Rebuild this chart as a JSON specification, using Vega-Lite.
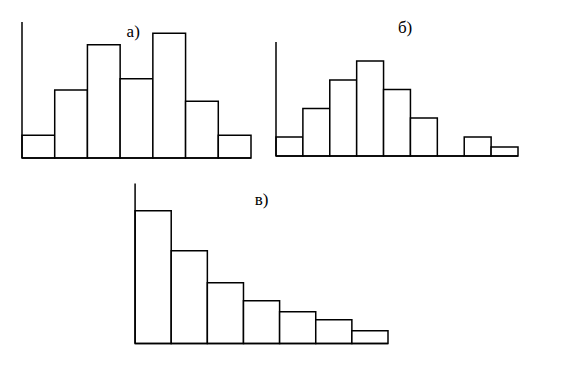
{
  "$schema": "https://vega.github.io/schema/vega-lite/v6.json",
  "padding": {"left": 21, "top": 19, "right": 0, "bottom": 0},
  "background": "white",
  "spacing": 23.5,
  "config": {
    "view": {"stroke": null},
    "rect": {"fill": "white", "stroke": "black", "strokeWidth": 1.5},
    "rule": {"stroke": "black", "strokeWidth": 1.5},
    "text": {"font": "Liberation Serif", "fontSize": 17, "color": "black", "baseline": "alphabetic", "align": "center"}
  },
  "datasets": {
    "a": [
      {"x0": 0, "x1": 1, "count": 2},
      {"x0": 1, "x1": 2, "count": 6},
      {"x0": 2, "x1": 3, "count": 10},
      {"x0": 3, "x1": 4, "count": 7},
      {"x0": 4, "x1": 5, "count": 11},
      {"x0": 5, "x1": 6, "count": 5},
      {"x0": 6, "x1": 7, "count": 2}
    ],
    "b": [
      {"x0": 0, "x1": 1, "count": 2},
      {"x0": 1, "x1": 2, "count": 5},
      {"x0": 2, "x1": 3, "count": 8},
      {"x0": 3, "x1": 4, "count": 10},
      {"x0": 4, "x1": 5, "count": 7},
      {"x0": 5, "x1": 6, "count": 4},
      {"x0": 6, "x1": 7, "count": 0},
      {"x0": 7, "x1": 8, "count": 2},
      {"x0": 8, "x1": 9, "count": 0.95}
    ],
    "c": [
      {"x0": 0, "x1": 1, "count": 13.27},
      {"x0": 1, "x1": 2, "count": 9.27},
      {"x0": 2, "x1": 3, "count": 6.07},
      {"x0": 3, "x1": 4, "count": 4.27},
      {"x0": 4, "x1": 5, "count": 3.17},
      {"x0": 5, "x1": 6, "count": 2.37},
      {"x0": 6, "x1": 7, "count": 1.27}
    ]
  },
  "vconcat": [
    {
      "bounds": "flush",
      "spacing": 25,
      "hconcat": [
        {
          "width": 229,
          "height": 136,
          "layer": [
            {
              "data": {"name": "a"},
              "mark": "rect",
              "encoding": {
                "x": {"field": "x0", "type": "quantitative", "scale": {"domain": [0, 7], "nice": false, "zero": false}, "axis": null},
                "x2": {"field": "x1"},
                "y": {"field": "count", "type": "quantitative", "scale": {"domain": [0, 12], "nice": false}, "axis": null},
                "y2": {"datum": 0}
              }
            },
            {
              "data": {"values": [{}]},
              "mark": "rule",
              "encoding": {"x": {"datum": 0}, "y": {"datum": 0}, "y2": {"datum": 12}}
            },
            {
              "data": {"values": [{}]},
              "mark": "rule",
              "encoding": {"y": {"datum": 0}, "x": {"datum": 0}, "x2": {"datum": 7}}
            },
            {
              "data": {"values": [{"label": "а)", "lx": 3.4, "ly": 10.68}]},
              "mark": "text",
              "encoding": {"x": {"field": "lx", "type": "quantitative"}, "y": {"field": "ly", "type": "quantitative"}, "text": {"field": "label"}}
            }
          ]
        },
        {
          "width": 242,
          "height": 134,
          "layer": [
            {
              "data": {"name": "b"},
              "mark": "rect",
              "encoding": {
                "x": {"field": "x0", "type": "quantitative", "scale": {"domain": [0, 9], "nice": false, "zero": false}, "axis": null},
                "x2": {"field": "x1"},
                "y": {"field": "count", "type": "quantitative", "scale": {"domain": [0, 14.1], "nice": false}, "axis": null},
                "y2": {"datum": 0}
              }
            },
            {
              "data": {"values": [{}]},
              "mark": "rule",
              "encoding": {"x": {"datum": 0}, "y": {"datum": 0}, "y2": {"datum": 12}}
            },
            {
              "data": {"values": [{}]},
              "mark": "rule",
              "encoding": {"y": {"datum": 0}, "x": {"datum": 0}, "x2": {"datum": 9}}
            },
            {
              "data": {"values": [{"label": "б)", "lx": 4.8, "ly": 12.9}]},
              "mark": "text",
              "encoding": {"x": {"field": "lx", "type": "quantitative"}, "y": {"field": "ly", "type": "quantitative"}, "text": {"field": "label"}}
            }
          ]
        }
      ]
    },
    {
      "width": 366,
      "height": 160,
      "layer": [
        {
          "data": {"name": "c"},
          "mark": "rect",
          "encoding": {
            "x": {"field": "x0", "type": "quantitative", "scale": {"domain": [-3.13, 7], "nice": false, "zero": false}, "axis": null},
            "x2": {"field": "x1"},
            "y": {"field": "count", "type": "quantitative", "scale": {"domain": [0, 16], "nice": false}, "axis": null},
            "y2": {"datum": 0}
          }
        },
        {
          "data": {"values": [{}]},
          "mark": "rule",
          "encoding": {"x": {"datum": 0}, "y": {"datum": 0}, "y2": {"datum": 16}}
        },
        {
          "data": {"values": [{}]},
          "mark": "rule",
          "encoding": {"y": {"datum": 0}, "x": {"datum": 0}, "x2": {"datum": 7}}
        },
        {
          "data": {"values": [{"label": "в)", "lx": 3.5, "ly": 13.9}]},
          "mark": "text",
          "encoding": {"x": {"field": "lx", "type": "quantitative"}, "y": {"field": "ly", "type": "quantitative"}, "text": {"field": "label"}}
        }
      ]
    }
  ]
}
